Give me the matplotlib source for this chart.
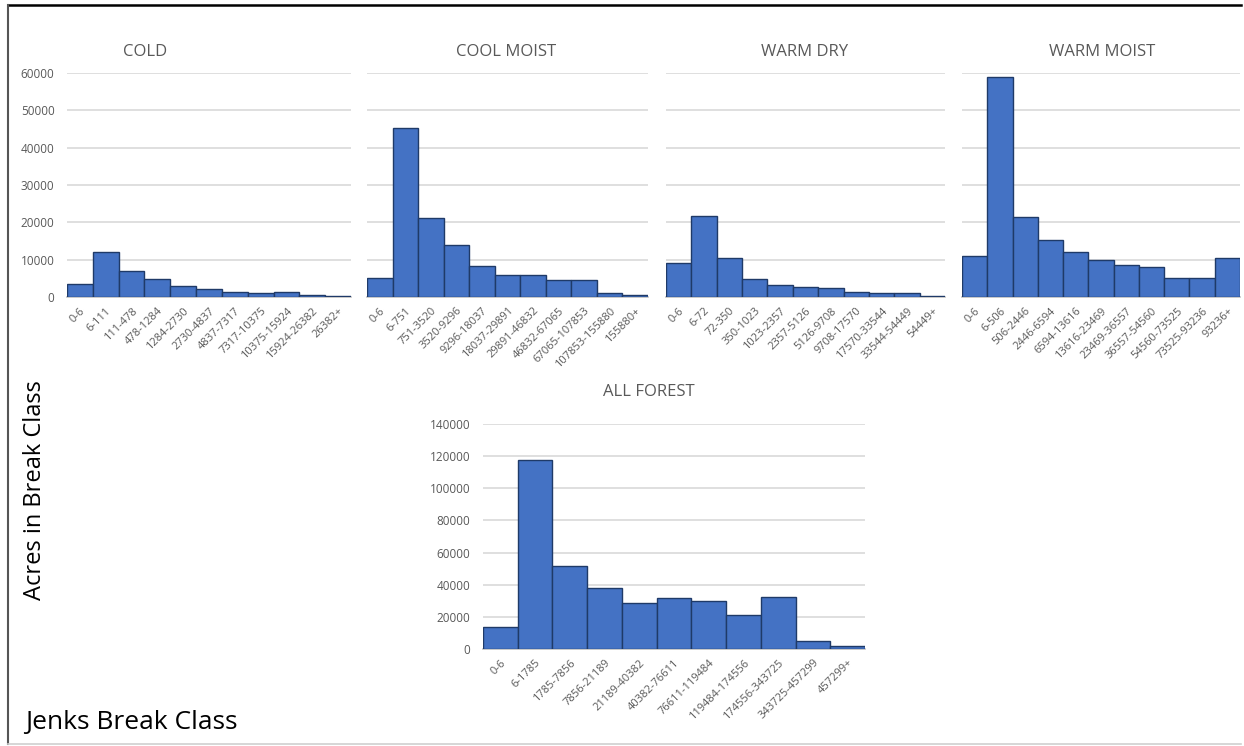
import matplotlib
matplotlib.use("Agg")
import matplotlib.pyplot as plt
from matplotlib.lines import Line2D

plt.rcParams['font.family'] = ['Open Sans', 'DejaVu Sans']

# Jenks break classes and acreage per class, by forest type
cold_classes = ["0-6", "6-111", "111-478", "478-1284", "1284-2730", "2730-4837",
                "4837-7317", "7317-10375", "10375-15924", "15924-26382", "26382+"]
cold_acres = [3400, 12100, 7000, 4950, 2950, 2250, 1350, 1000, 1350, 450, 150]

cool_moist_classes = ["0-6", "6-751", "751-3520", "3520-9296", "9296-18037", "18037-29891",
                      "29891-46832", "46832-67065", "67065-107853", "107853-155880", "155880+"]
cool_moist_acres = [5000, 45300, 21200, 13800, 8400, 5900, 5900, 4500, 4500, 1200, 500]

warm_dry_classes = ["0-6", "6-72", "72-350", "350-1023", "1023-2357", "2357-5126",
                    "5126-9708", "9708-17570", "17570-33544", "33544-54449", "54449+"]
warm_dry_acres = [9200, 21600, 10500, 4900, 3200, 2600, 2300, 1400, 1000, 1000, 300]

warm_moist_classes = ["0-6", "6-506", "506-2446", "2446-6594", "6594-13616", "13616-23469",
                      "23469-36557", "36557-54560", "54560-73525", "73525-93236", "93236+"]
warm_moist_acres = [11100, 58900, 21400, 15200, 12000, 9900, 8600, 8000, 5200, 5200, 10500]

all_forest_classes = ["0-6", "6-1785", "1785-7856", "7856-21189", "21189-40382", "40382-76611",
                      "76611-119484", "119484-174556", "174556-343725", "343725-457299", "457299+"]
all_forest_acres = [13900, 117600, 51900, 38000, 28400, 31500, 29700, 21400, 32200, 4800, 2100]

W, H = 1244, 746
fig = plt.figure(figsize=(W / 100, H / 100), dpi=100)

BAR = "#4472C4"
EDGE = "#1F3A68"
GRID = "#D9D9D9"
TXT = "#595959"


def px_axes(x0, x1, y0, y1):
    return fig.add_axes([x0 / W, 1 - y1 / H, (x1 - x0) / W, (y1 - y0) / H])


def histogram(ax, classes, acres, ymax, ystep, show_y):
    x = list(range(len(classes)))
    ax.bar(x, acres, width=1.0, color=BAR, edgecolor=EDGE, linewidth=1.0, zorder=3)
    ax.set_xlim(-0.5, len(classes) - 0.5)
    ax.set_ylim(0, ymax)
    ax.set_yticks(range(0, ymax + 1, ystep))
    ax.yaxis.grid(True, color=GRID, linewidth=1.2, zorder=0)
    ax.set_axisbelow(True)
    for s in ("top", "right", "left"):
        ax.spines[s].set_visible(False)
    ax.spines["bottom"].set_color("#BFBFBF")
    ax.spines["bottom"].set_linewidth(1.2)
    ax.tick_params(axis="both", length=0, colors=TXT, labelsize=8.5)
    ax.set_xticks(x)
    ax.set_xticklabels(classes, rotation=45, ha="right", va="top",
                       rotation_mode="anchor", fontsize=8, color=TXT)
    ax.tick_params(axis="x", pad=6)
    if show_y:
        ax.tick_params(axis="y", pad=9)
    else:
        ax.set_yticklabels([])


panels = [
    ("COLD", cold_classes, cold_acres, (67, 351), 145),
    ("COOL MOIST", cool_moist_classes, cool_moist_acres, (367, 648), 506),
    ("WARM DRY", warm_dry_classes, warm_dry_acres, (666, 945), 805),
    ("WARM MOIST", warm_moist_classes, warm_moist_acres, (962, 1240), 1102),
]
for i, (title, classes, acres, (x0, x1), tx) in enumerate(panels):
    ax = px_axes(x0, x1, 73, 297)
    histogram(ax, classes, acres, 60000, 10000, show_y=(i == 0))
    fig.text(tx / W, 1 - 52 / H, title, ha="center", va="center",
             fontsize=12, color=TXT)

ax = px_axes(483, 865, 424, 649)
histogram(ax, all_forest_classes, all_forest_acres, 140000, 20000, show_y=True)
fig.text(649 / W, 1 - 392 / H, "ALL FOREST", ha="center", va="center",
         fontsize=12, color=TXT)

fig.text(35 / W, 1 - 490 / H, "Acres in Break Class", rotation=90,
         ha="center", va="center", fontsize=17, color="black")
fig.text(25 / W, 1 - 722 / H, "Jenks Break Class", ha="left", va="center",
         fontsize=19, color="black")

# outer frame
fig.add_artist(Line2D([8 / W, 1241 / W], [1 - 5 / H, 1 - 5 / H],
                      transform=fig.transFigure, color="black", linewidth=1.8))
fig.add_artist(Line2D([8 / W, 8 / W], [1 - 5 / H, 1 - 744 / H],
                      transform=fig.transFigure, color="#555555", linewidth=1.5))
fig.add_artist(Line2D([8 / W, 1241 / W], [1 - 744 / H, 1 - 744 / H],
                      transform=fig.transFigure, color="#D0D0D0", linewidth=1.2))

fig.savefig("out.png", dpi=100)
